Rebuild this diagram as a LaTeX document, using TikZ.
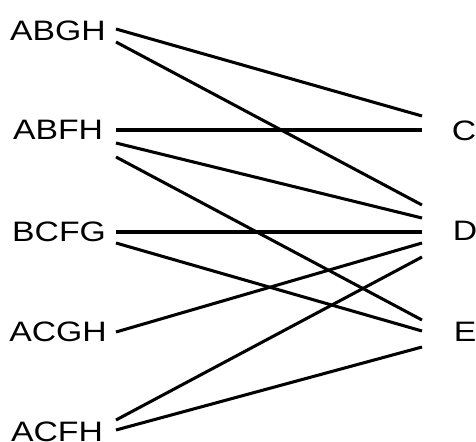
\documentclass[tikz,border=0pt]{standalone}
\usepackage{fontspec}
\newfontfamily\labelfont[FakeStretch=1.2]{Liberation Sans}
\usepackage{tikz}
\usetikzlibrary{calc,positioning}

\tikzset{
    setlabel/.style={font=\labelfont\fontsize{24}{25}\selectfont, inner sep=0pt, anchor=center},
    edge/.style={line width=2.6pt}
}

\begin{document}
\begin{tikzpicture}[x=0.03cm, y=-0.03cm]
            \useasboundingbox (0,0) rectangle (476,441);

            % Left labels
            \node[setlabel] (ABGH) at (58,31) {ABGH};
            \node[setlabel] (ABFH) at (58,130) {ABFH};
            \node[setlabel] (BCFG) at (59,232) {BCFG};
            \node[setlabel] (ACGH) at (58,332) {ACGH};
            \node[setlabel] (ACFH) at (57,432) {ACFH};

            % Right labels
            \node[setlabel] (C) at (464,131) {C};
            \node[setlabel] (D) at (465,231) {D};
            \node[setlabel] (E) at (465,332) {E};

            % Line ends on the left
            \coordinate (ABGH-1) at (116,29);
            \coordinate (ABGH-2) at (116,42);
            \coordinate (ABFH-1) at (116,130);
            \coordinate (ABFH-2) at (116,143);
            \coordinate (ABFH-3) at (116,157);
            \coordinate (BCFG-1) at (116,232);
            \coordinate (BCFG-2) at (116,243);
            \coordinate (ACGH-1) at (116,332);
            \coordinate (ACFH-1) at (116,420);
            \coordinate (ACFH-2) at (116,430);

            % Line ends on the right
            \coordinate (C-1) at (422,116);
            \coordinate (C-2) at (422,130);
            \coordinate (D-1) at (422,205);
            \coordinate (D-2) at (422,218);
            \coordinate (D-3) at (422,232);
            \coordinate (D-4) at (422,243);
            \coordinate (D-5) at (422,257);
            \coordinate (E-1) at (422,320);
            \coordinate (E-2) at (422,331);
            \coordinate (E-3) at (422,347);

            % Connections
            \foreach \a/\b in {ABGH-1/C-1, ABGH-2/D-1, ABFH-1/C-2, ABFH-2/D-2,
                               ABFH-3/E-1, BCFG-1/D-3, BCFG-2/E-2, ACGH-1/D-4,
                               ACFH-1/D-5, ACFH-2/E-3} {
                \draw[edge] (\a) -- (\b);
            }
        \end{tikzpicture}
\end{document}
